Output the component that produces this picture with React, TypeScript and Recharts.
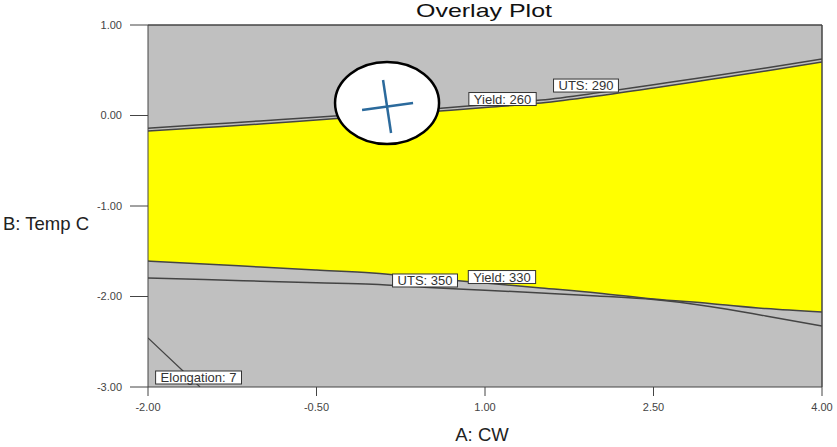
import React from 'react';
import { ComposedChart, XAxis, YAxis, CartesianGrid, Area, Line, ReferenceDot, ReferenceLine } from 'recharts';

// A: CW grid
const cwValues = [-2, -1.5, -1, -0.5, 0, 0.5, 1, 1.5, 2, 2.5, 3, 3.5, 4];
// contour lines (B: Temp C)
const yield260 = [-0.171, -0.133, -0.094, -0.05, -0.006, 0.041, 0.088, 0.138, 0.215, 0.304, 0.398, 0.492, 0.591];
const uts290 = [-0.14, -0.1, -0.06, -0.02, 0.025, 0.07, 0.12, 0.17, 0.25, 0.34, 0.43, 0.525, 0.625];
const yield330 = [-1.608, -1.641, -1.674, -1.707, -1.74, -1.796, -1.851, -1.906, -1.961, -2.028, -2.077, -2.133, -2.171];
const uts350 = [-1.796, -1.813, -1.831, -1.849, -1.865, -1.901, -1.93, -1.961, -1.994, -2.033, -2.11, -2.215, -2.326];

// Elongation: 7 contour
const elongX = [-2, -1.688, -1.537];
const elongY = [-2.459, -2.823, -3.0];

// contour labels
const labelTexts = ['UTS: 290', 'Yield: 260', 'UTS: 350', 'Yield: 330', 'Elongation: 7'];
const labelX = [1.899, 1.156, 0.466, 1.151, -1.55];
const labelY = [0.331, 0.182, -1.823, -1.785, -2.895];

// flag marker
const flagX = 0.128;
const flagY = 0.138;

const xTicks = [-2, -0.5, 1, 2.5, 4];
const yTicks = [-3, -2, -1, 0, 1];

const data = cwValues.map((x, i) => ({
  x,
  yield260: yield260[i],
  uts290: uts290[i],
  yield330: yield330[i],
  uts350: uts350[i],
}));
const elongData = elongX.map((x, i) => ({ x, elong: elongY[i] }));

const LABEL_FONT = "13px 'Liberation Sans', Arial, sans-serif";
function measure(text: string): number {
  try {
    const c = document.createElement('canvas').getContext('2d');
    if (c) {
      c.font = LABEL_FONT;
      return c.measureText(text).width;
    }
  } catch (e) {}
  return text.length * 7;
}

const LabelBox = (props: any) => {
  const { cx, cy, text } = props;
  const w = measure(text) + 10;
  const h = 13;
  return (
    <g>
      <rect x={cx - w / 2} y={cy - h / 2} width={w} height={h} fill="#ffffff" stroke="#333" strokeWidth={1} />
      <text x={cx} y={cy + 4.6} textAnchor="middle" fontFamily="'Liberation Sans', Arial, sans-serif" fontSize={13} fill="#333">
        {text}
      </text>
    </g>
  );
};

const FlagMarker = (props: any) => {
  const { cx, cy } = props;
  return (
    <g>
      <ellipse cx={cx} cy={cy} rx={52} ry={41} fill="#ffffff" stroke="#000" strokeWidth={2.5} />
      <line x1={cx - 4} y1={cy - 23} x2={cx + 4} y2={cy + 30} stroke="#2b6a9c" strokeWidth={2.5} />
      <line x1={cx - 25} y1={cy + 7} x2={cx + 26} y2={cy} stroke="#2b6a9c" strokeWidth={2.5} />
    </g>
  );
};

export default function App() {
  return (
    <div style={{ position: 'absolute', left: 0, top: 0, width: 837, height: 447, background: '#fff' }}>
      <ComposedChart width={837} height={447} data={data} margin={{ top: 25, right: 15, bottom: 0, left: 0 }}>
        <CartesianGrid horizontal={false} vertical={false} fill="#c0c0c0" />
        <XAxis
          dataKey="x"
          type="number"
          domain={[-2, 4]}
          ticks={xTicks}
          allowDataOverflow
          tickFormatter={(v: number) => v.toFixed(2)}
          height={60}
          tickSize={9}
          tickMargin={7}
          stroke="#444"
          tick={{ fill: '#444', fontSize: 11, fontFamily: "'Liberation Sans', Arial, sans-serif" }}
        />
        <YAxis
          type="number"
          domain={[-3, 1]}
          ticks={yTicks}
          allowDataOverflow
          tickFormatter={(v: number) => v.toFixed(2)}
          width={148}
          tickSize={18}
          tickMargin={8}
          stroke="#444"
          tick={{ fill: '#444', fontSize: 11, fontFamily: "'Liberation Sans', Arial, sans-serif" }}
        />
        <Area
          type="monotone"
          dataKey={(d: any) => [d.yield330, d.yield260]}
          fill="#ffff00"
          fillOpacity={1}
          stroke="none"
          isAnimationActive={false}
        />
        <Line type="monotone" dataKey="uts290" stroke="#444" strokeWidth={1.5} dot={false} isAnimationActive={false} />
        <Line type="monotone" dataKey="yield260" stroke="#444" strokeWidth={1.5} dot={false} isAnimationActive={false} />
        <Line type="monotone" dataKey="yield330" stroke="#444" strokeWidth={1.5} dot={false} isAnimationActive={false} />
        <Line type="monotone" dataKey="uts350" stroke="#444" strokeWidth={1.5} dot={false} isAnimationActive={false} />
        <Line data={elongData} type="linear" dataKey="elong" stroke="#444" strokeWidth={1.2} dot={false} isAnimationActive={false} />
        <ReferenceLine y={1} stroke="#444" strokeWidth={1.5} ifOverflow="visible" />
        <ReferenceLine x={4} stroke="#444" strokeWidth={1.5} ifOverflow="visible" />
        {labelTexts.map((t, i) => (
          <ReferenceDot
            key={t}
            x={labelX[i]}
            y={labelY[i]}
            r={1}
            ifOverflow="visible"
            shape={(p: any) => <LabelBox {...p} text={t} />}
          />
        ))}
        <ReferenceDot x={flagX} y={flagY} r={1} ifOverflow="visible" shape={(p: any) => <FlagMarker {...p} />} />
        <text x={484} y={17} textAnchor="middle" fontFamily="'Liberation Sans', Arial, sans-serif" fontSize={19} fill="#111" textLength={136} lengthAdjust="spacingAndGlyphs">
          Overlay Plot
        </text>
        <text x={3} y={230} fontFamily="'Liberation Sans', Arial, sans-serif" fontSize={18.5} fill="#222">
          B: Temp C
        </text>
        <text x={482} y={441} textAnchor="middle" fontFamily="'Liberation Sans', Arial, sans-serif" fontSize={18.5} fill="#222">
          A: CW
        </text>
      </ComposedChart>
    </div>
  );
}
